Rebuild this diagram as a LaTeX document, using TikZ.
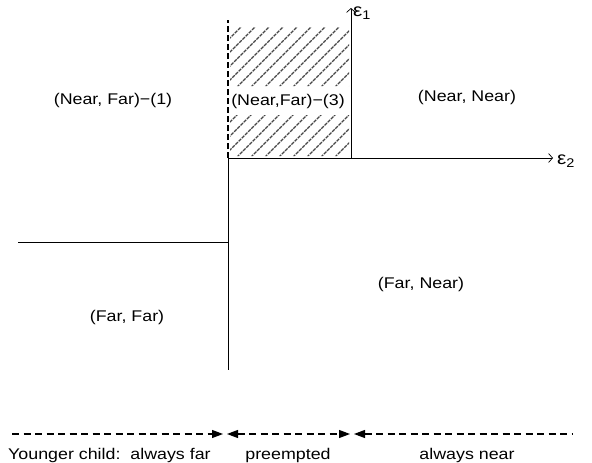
\documentclass[tikz,border=0pt]{standalone}
\usepackage{fontspec}
\setmainfont{Liberation Sans}[FakeStretch=1.15]
\usetikzlibrary{arrows.meta}
\begin{document}
\begin{tikzpicture}[x=1pt,y=-1pt,
  lab/.style={font=\fontsize{15.5}{17}\selectfont, inner sep=0pt},
  axis/.style={line width=0.7pt},
  hatch/.style={gray!55!black, line width=1.3pt, dash pattern=on 3.5pt off 1pt},
  bdash/.style={line width=1.1pt, dash pattern=on 7pt off 4.5pt},
  tri/.tip={Triangle[length=11pt,width=8pt]},
  tip/.style={-tri}]
\useasboundingbox (0,0) rectangle (592,463);
% coordinates
\coordinate (O) at (228,158);
\coordinate (E2end) at (553,158);
\coordinate (E1base) at (351,158);
\coordinate (E1end) at (351,8);
\coordinate (dashTop) at (228,20);
\coordinate (vbot) at (228,370);
\coordinate (hleft) at (18,242);
\coordinate (hright) at (228,242);
% hatching
\begin{scope}
  \clip (230,27) rectangle (349,86) (230,115) rectangle (349,156);
  \foreach \i in {0,...,22} {
    \draw[hatch] (70+\i*14,170) -- ++(160,-160);
  }
\end{scope}
% axes
\draw[axis,-{Straight Barb[length=4pt,width=9pt]}] (O) -- (E2end);
\draw[axis,-{Straight Barb[length=4pt,width=9pt]}] (E1base) -- (E1end);
\node[lab,anchor=west] (e2) at (557,161) {\fontsize{18}{18}\selectfont ε\textsubscript{2}};
\node[lab,anchor=west] (e1) at (353,13) {\fontsize{18}{18}\selectfont ε\textsubscript{1}};
\draw[line width=1.3pt, dash pattern=on 6pt off 3pt] (O) -- (dashTop);
\draw[axis] (O) -- (vbot);
\draw[axis] (hleft) -- (hright);
% region labels
\node[lab] (nf1) at (113,100) {(Near, Far)−(1)};
\node[lab] (nf3) at (288,101) {(Near,Far)−(3)};
\node[lab] (nn) at (467,97) {(Near, Near)};
\node[lab] (fn) at (421,284) {(Far, Near)};
\node[lab] (ff) at (127,317) {(Far, Far)};
% bottom arrows
\coordinate (a0) at (12,434);
\coordinate (a1) at (223,434);
\coordinate (b0) at (227,434);
\coordinate (b1) at (350,434);
\coordinate (c0) at (354,434);
\coordinate (c1) at (572,434);
\draw[bdash,tip] (a0) -- (a1);
\draw[bdash,tri-tri] (b0) -- (b1);
\draw[bdash,tri-] (c0) -- (c1);
\node[lab,anchor=west] (t1) at (8,455) {Younger child:\ \ always far};
\node[lab] (t2) at (288,455) {preempted};
\node[lab] (t3) at (467,455) {always near};
\end{tikzpicture}
\end{document}
